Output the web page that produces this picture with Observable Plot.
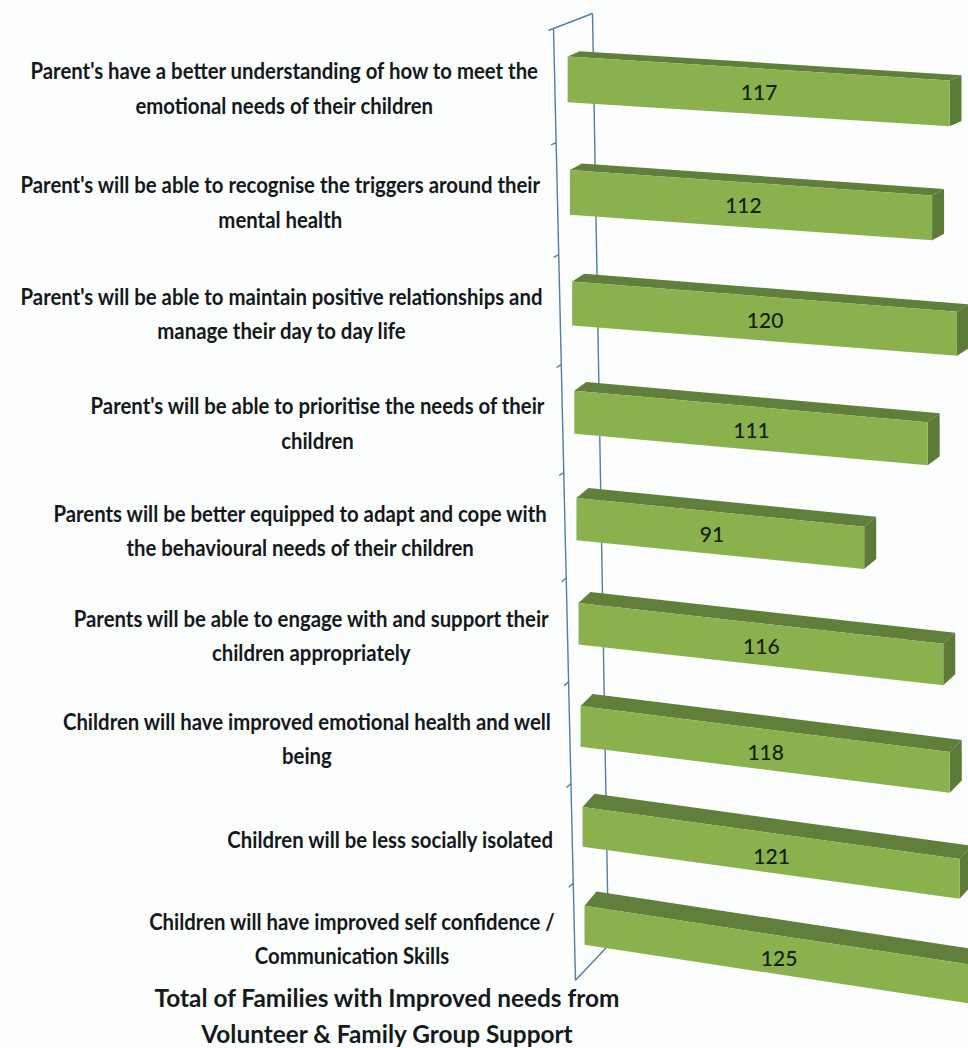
<!DOCTYPE html>
<html>
<head>
<meta charset="utf-8">
<script src="https://cdn.jsdelivr.net/npm/d3@7"></script>
<script src="https://cdn.jsdelivr.net/npm/@observablehq/plot@0.6"></script>
<style>
  html, body { margin: 0; padding: 0; background: #fcfdfd; overflow: hidden; }
  #wrap { position: relative; width: 968px; height: 1048px; }
  #title { position: absolute; left: 87px; width: 600px; top: 979px; text-align: center;
    font: 700 25px/36px "Lato", sans-serif; color: #151a1c; transform: scaleX(.975); }
</style>
</head>
<body>
<div id="wrap"><div id="title">Total of Families with Improved needs from<br>Volunteer &amp; Family Group Support</div></div>
<script>
const categories = [
  "Parent's have a better understanding of how to meet the\nemotional needs of their children",
  "Parent's will be able to recognise the triggers around their\nmental health",
  "Parent's will be able to maintain positive relationships and\nmanage their day to day life",
  "Parent's will be able to prioritise the needs of their\nchildren",
  "Parents will be better equipped to adapt and cope with\nthe behavioural needs of their children",
  "Parents will be able to engage with and support their\nchildren appropriately",
  "Children will have improved emotional health and well\nbeing",
  "Children will be less socially isolated",
  "Children will have improved self confidence /\nCommunication Skills"
];
const values = [117, 112, 120, 111, 91, 116, 118, 121, 125];
const valueLabelNudge = [0, -2.5, 0, 0, -2.8, 0, 0, 0, 0];
const rows = categories.map((label, i) => ({label, value: values[i], row: i, nudge: valueLabelNudge[i]}));

// The picture is a tilted 3-D chart, so scale output is passed through a perspective warp.
const Y0 = 28, YSPAN = 952, NROWS = categories.length;
const LABEL_SX = 0.885;
const rowPos = r => Y0 + 115.2 * r - 1.05 * r * r;
const rowOf = py => (py - Y0) / YSPAN * NROWS;
function warp(px, py, pcy = py) {
  const t = (rowPos(rowOf(pcy)) - Y0) / YSPAN;
  const s = 1.025 - 0.056 * t - 0.03 * t * (1 - t);
  const shear = 0.06 + 0.1 * t - 0.05 * t * (1 - t);
  return [566.5 + 19 * t + px * s, rowPos(rowOf(py)) - 6 + px * s * shear];
}
function wall(depth, r) {
  const y = rowPos(r), t = (y - Y0) / YSPAN;
  const x0 = 553 + 22 * t, x1 = 592 + 16 * t;
  return [x0 + (x1 - x0) * depth, y - depth * (15 + 20 * t)];
}
const segments = [
  {d1: 0, r1: 0, d2: 0, r2: NROWS},
  {d1: 1, r1: 0, d2: 1, r2: NROWS},
  {d1: 0, r1: 0, d2: 1, r2: 0},
  {d1: 0, r1: NROWS, d2: 1, r2: NROWS},
  ...d3.range(NROWS).map(r => ({d1: -0.13, r1: r, d2: 0, r2: r}))
];
const NS = "http://www.w3.org/2000/svg";
const poly = (g, pts, fill) => {
  const p = document.createElementNS(NS, "polygon");
  p.setAttribute("points", pts.map(q => q.join(",")).join(" "));
  p.setAttribute("fill", fill);
  g.appendChild(p);
};
const warpBars = (index, scales, vals, dim, ctx, next) => {
  const g = next(index, scales, vals, dim, ctx);
  g.querySelectorAll("rect").forEach(rect => {
    const x = +rect.getAttribute("x"), w = +rect.getAttribute("width");
    const y = +rect.getAttribute("y"), h = +rect.getAttribute("height");
    const cy = y + h / 2;
    const a = warp(x, y, cy), b = warp(x + w, y, cy), c = warp(x + w, y + h, cy), e = warp(x, y + h, cy);
    const t = (a[1] - Y0) / YSPAN;
    const dx = 12, dy = -(5 + 10 * t);
    const back = q => [q[0] + dx, q[1] + dy];
    const parent = rect.parentNode;
    poly(parent, [a, b, back(b), back(a)], "#5f7f3b");
    poly(parent, [b, c, back(c), back(b)], "#5c7a38");
    poly(parent, [a, b, c, e], "#8ab14e");
    rect.remove();
  });
  return g;
};
const warpText = (collect, down = () => 0) => (index, scales, vals, dim, ctx, next) => {
  const g = next(index, scales, vals, dim, ctx);
  g.querySelectorAll("text").forEach(node => {
    const m = /translate\(([-\d.]+),\s*([-\d.]+)\)/.exec(node.getAttribute("transform"));
    const [X, Y] = warp(+m[1], +m[2]);
    node.setAttribute("transform", `translate(${X},${Y + down((Y - Y0) / YSPAN)})`);
    if (collect) collect.push([node, X, Y]);
  });
  return g;
};
const warpLinks = (index, scales, vals, dim, ctx, next) => {
  const g = next(index, scales, vals, dim, ctx);
  g.querySelectorAll("path").forEach((path, i) => {
    const s = segments[index[i]];
    const p = wall(s.d1, s.r1), q = wall(s.d2, s.r2);
    path.setAttribute("d", `M${p[0]},${p[1]}L${q[0]},${q[1]}`);
  });
  return g;
};

const labelNodes = [];
const plot = Plot.plot({
  width: 968, height: 1048, margin: 0,
  style: {background: "transparent", overflow: "hidden"},
  x: {domain: [0, 125], range: [0, 400], axis: null},
  y: {domain: [0, NROWS], range: [Y0, Y0 + YSPAN], axis: null},
  marks: [
    Plot.link(segments, {x1: "d1", y1: "r1", x2: "d2", y2: "r2", stroke: "#4f7ea6", strokeWidth: 1.4, render: warpLinks}),
    Plot.rectX(rows, {x1: 0, x2: "value", y1: d => d.row + 0.3, y2: d => d.row + 0.7, fill: "#8ab14e", render: warpBars}),
    Plot.text(rows, {x: d => d.value / 2 + d.nudge, y: d => d.row + 0.5, text: d => String(d.value),
      fontSize: 21, fontFamily: "Lato, sans-serif", fontWeight: 500, fill: "#14200f", render: warpText(null, t => 1 + 3 * t)}),
    Plot.text(rows, {x: () => 0, y: d => d.row + 0.5, text: "label", lineHeight: 1.5, textAnchor: "middle", lineAnchor: "middle",
      fontSize: 23, fontWeight: 700, fontFamily: "Lato, sans-serif", fill: "#14191c", render: warpText(labelNodes)})
  ]
});
document.getElementById("wrap").prepend(plot);
labelNodes.forEach(([node, X, Y]) => {
  const w = node.getBBox().width * LABEL_SX;
  const t = (Y - Y0) / YSPAN;
  node.setAttribute("transform", `translate(${X - 30 - w / 2},${Y + 5.5 + 5 * t}) scale(${LABEL_SX},1)`);
});
</script>
</body>
</html>
